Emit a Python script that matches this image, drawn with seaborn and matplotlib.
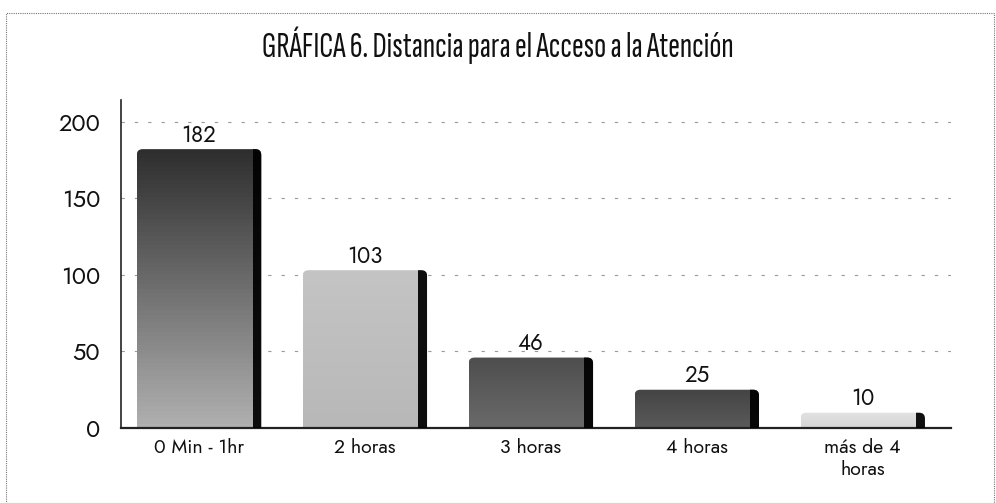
import numpy as np
import pandas as pd
import matplotlib
matplotlib.use("Agg")
import matplotlib.pyplot as plt
import seaborn as sns
from matplotlib.patches import Rectangle, FancyBboxPatch

categories = ["0 Min - 1hr", "2 horas", "3 horas", "4 horas", "más de 4\nhoras"]
values = [182, 103, 46, 25, 10]
top_shades = ["#2e2e2e", "#c4c4c4", "#4e4e4e", "#444444", "#e2e2e2"]
bottom_shades = ["#b0b0b0", "#b8b8b8", "#6a6a6a", "#5a5a5a", "#d6d6d6"]
yticks = [0, 50, 100, 150, 200]
title = "GRÁFICA 6. Distancia para el Acceso a la Atención"

sns.set_theme(style="white")
plt.rcParams["font.family"] = ["Jost", "DejaVu Sans"]

df = pd.DataFrame({"cat": categories, "val": values})

fig = plt.figure(figsize=(9.96, 5.03), dpi=100)
ax = fig.add_axes([0.1215, 0.149, 0.833, 0.652])

sns.barplot(data=df, x="cat", y="val", ax=ax, color="#888888", width=0.75,
            saturation=1, linewidth=0)

ax.set_xlim(-0.47, len(categories) - 0.47)
ax.set_ylim(0, 214)

# ratio of y data units to x data units per pixel, for round corners
bbox = ax.get_window_extent()
x_per_px = 5 / bbox.width
y_per_px = 214 / bbox.height
aspect = y_per_px / x_per_px

# shade each bar with a vertical gradient, rounded top and a dark right edge
for patch, top, bot in zip(ax.patches, top_shades, bottom_shades):
    x0, y0 = patch.get_x(), patch.get_y()
    w, h = patch.get_width(), patch.get_height()
    shape = FancyBboxPatch((x0, y0 - 20), w, h + 20,
                           boxstyle="round,pad=0,rounding_size=0.035",
                           mutation_aspect=aspect, transform=ax.transData,
                           facecolor="none", edgecolor="none")
    ax.add_patch(shape)
    cmap = matplotlib.colors.LinearSegmentedColormap.from_list("s", [bot, top])
    grad = np.linspace(0, 1, 64).reshape(-1, 1)
    im = ax.imshow(grad, extent=[x0, x0 + w, y0, y0 + h], origin="lower",
                   aspect="auto", cmap=cmap, zorder=2)
    im.set_clip_path(shape)
    edge = ax.imshow(np.zeros((2, 2)), extent=[x0 + w * 0.93, x0 + w, y0, y0 + h],
                     origin="lower", aspect="auto", cmap="gray", vmin=0, vmax=1,
                     zorder=3, alpha=0.93)
    edge.set_clip_path(shape)
    patch.set_facecolor("none")

ax.set_aspect("auto")
ax.set_xlim(-0.47, len(categories) - 0.47)
ax.set_ylim(0, 214)

for i, v in enumerate(values):
    ax.text(i, v + 1.5, str(v), ha="center", va="bottom", fontsize=16,
            color="#111111", zorder=4)

ax.set_yticks(yticks)
ax.set_yticklabels([str(t) for t in yticks], fontsize=17, color="#111111")
ax.tick_params(axis="y", pad=15, length=0)
ax.tick_params(axis="x", labelsize=14, length=0, pad=7, colors="#111111")
ax.set_xlabel("")
ax.set_ylabel("")

for t in yticks[1:]:
    ax.axhline(t, color="#9a9a9a", linestyle=(0, (3, 9)), linewidth=0.8,
               zorder=1)

for side in ["top", "right"]:
    ax.spines[side].set_visible(False)
ax.spines["left"].set_color("#222222")
ax.spines["left"].set_linewidth(1.2)
ax.spines["bottom"].set_color("#222222")
ax.spines["bottom"].set_linewidth(1.6)

fig.text(0.5, 0.91, title, ha="center", va="center", fontsize=25.5,
         color="#111111", family=["Sofia Sans Extra Condensed", "Barlow Condensed",
                                  "DejaVu Sans"],
         fontweight="semibold")

# thin dotted frame around the whole figure
fig.add_artist(Rectangle((0.006, 0.0), 0.992, 0.975, transform=fig.transFigure,
                         fill=False, edgecolor="#777777", linewidth=0.8,
                         linestyle=(0, (1, 1))))

fig.savefig("out.png", dpi=100, facecolor="white")
